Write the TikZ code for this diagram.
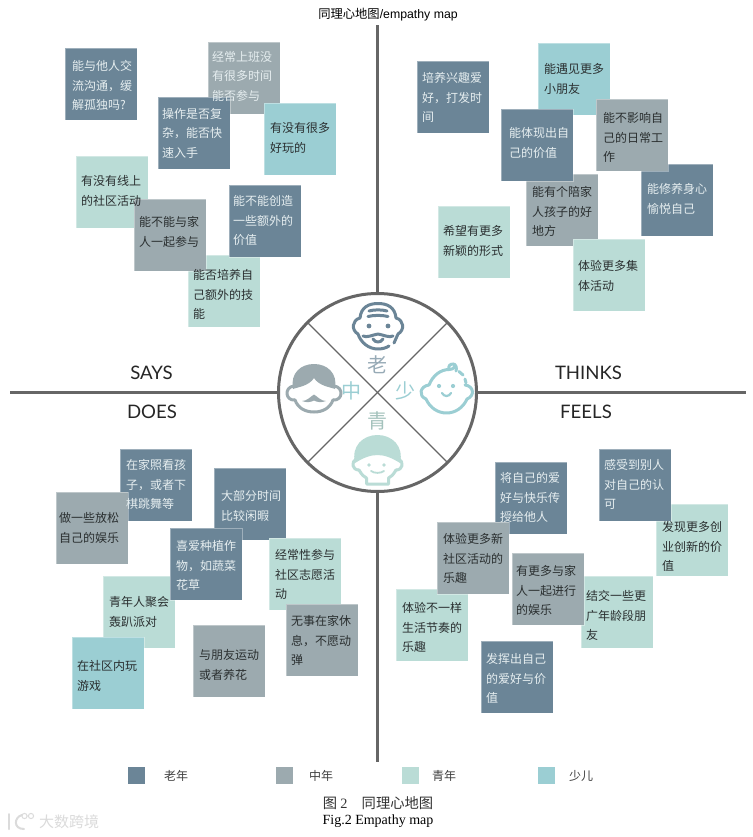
\documentclass[tikz,border=0pt]{standalone}
\usepackage{fontspec}
\setmainfont{Liberation Sans}
\newfontfamily\cjk{Noto Sans CJK SC}
\newfontfamily\headfont{Lato}
\newfontfamily\capserif{Liberation Serif}
\definecolor{cdark}{HTML}{6B8597}
\definecolor{cgrey}{HTML}{9CAAAF}
\definecolor{clight}{HTML}{BADCD6}
\definecolor{cteal}{HTML}{9BCED3}
\definecolor{caxis}{HTML}{666666}
\definecolor{ink}{HTML}{2A2F30}
\definecolor{paper}{HTML}{E6EEF0}
\newcommand{\cbox}[4]{\node[cardbox,fill=#2] (b#1) at (#3,#4) {};}
\newcommand{\ctext}[5]{\node[cardtext,text=#2,yshift=5.4pt] (t#1) at (#3,#4) {\rule{0pt}{10pt}#5};}
\tikzset{
  cardbox/.style={anchor=north west,minimum size=72pt,inner sep=0pt,outer sep=0pt,draw=white,draw opacity=0.35,line width=0.4pt},
  cardtext/.style={anchor=north west,inner sep=0pt,outer sep=0pt,align=left,font=\fontsize{12}{19.3}\selectfont\cjk},
  axisline/.style={draw=caxis,line width=3pt},
  sector/.style={draw=caxis,line width=1.4pt},
  hubc/.style={circle,draw=caxis,line width=3pt,minimum size=198pt,inner sep=0pt,outer sep=0pt},
  quad/.style={font=\fontsize{18.6}{20}\selectfont\headfont,text=black!85},
  agechar/.style={font=\fontsize{20}{22}\selectfont\cjk},
  legbox/.style={anchor=north west,minimum size=17pt,inner sep=0pt,outer sep=0pt},
  leglabel/.style={font=\fontsize{12}{14}\selectfont\cjk,text=black!75},
  icon/.style={line width=3pt,line cap=round,line join=round,fill=none},
}
\begin{document}
\begin{tikzpicture}[x=1pt,y=-1pt]
\useasboundingbox[fill=white] (0,0) rectangle (752,837);
% axes and hub
\node[hubc] (hub) at (377.5,392.5) {};
\coordinate (topEnd) at (377.5,25);
\coordinate (bottomEnd) at (377.5,762);
\coordinate (leftEnd) at (10,392.5);
\coordinate (rightEnd) at (746,392.5);
\draw[axisline] (hub.north) -- (topEnd);
\draw[axisline] (hub.south) -- (bottomEnd);
\draw[axisline] (hub.west) -- (leftEnd);
\draw[axisline] (hub.east) -- (rightEnd);
\draw[sector] (hub.45) -- (hub.225);
\draw[sector] (hub.135) -- (hub.315);
% title and quadrant heads
\node[font=\fontsize{12.3}{14}\selectfont] (title) at (388,15) {{\cjk 同理心地图}/empathy map};
\node[quad] (says) at (151.5,373) {SAYS};
\node[quad] (thinks) at (588.5,373) {THINKS};
\node[quad] (does) at (152,412) {DOES};
\node[quad] (feels) at (586,412) {FEELS};
% SAYS boxes
\cbox{a}{cdark}{65}{48}
\cbox{b}{cgrey}{208}{42}
\cbox{c}{cdark}{158}{97}
\cbox{d}{cteal}{264}{103}
\cbox{e}{clight}{76}{156}
\cbox{h}{clight}{188}{255}
\cbox{g}{cdark}{229}{185}
\cbox{f}{cgrey}{134}{199}
% THINKS boxes
\cbox{i}{cdark}{417}{61}
\cbox{j}{cteal}{538}{43}
\cbox{n}{cdark}{641}{164}
\cbox{k}{cgrey}{596}{99}
\cbox{o}{cgrey}{526}{174}
\cbox{l}{cdark}{501}{109}
\cbox{p}{clight}{438}{206}
\cbox{q}{clight}{573}{239}
% DOES boxes
\cbox{r}{cdark}{120}{449}
\cbox{s}{cgrey}{56}{492}
\cbox{t}{cdark}{214}{468}
\cbox{x}{clight}{103}{576}
\cbox{u}{cdark}{170}{528}
\cbox{v}{clight}{269}{538}
\cbox{w}{cgrey}{286}{604}
\cbox{y}{cteal}{72}{637}
\cbox{z}{cgrey}{193}{625}
% FEELS boxes
\cbox{aa}{cdark}{495}{462}
\cbox{ac}{clight}{656}{504}
\cbox{ab}{cdark}{599}{449}
\cbox{af}{clight}{396}{589}
\cbox{ad}{cgrey}{437}{522}
\cbox{ag}{clight}{581}{576}
\cbox{ae}{cgrey}{512}{553}
\cbox{ah}{cdark}{481}{641}
% SAYS texts
\ctext{a}{paper}{72}{66}{能与他人交\\流沟通，缓\\解孤独吗?}
\ctext{b}{paper}{212}{57}{经常上班没\\有很多时间\\能否参与}
\ctext{c}{paper}{162}{114}{操作是否复\\杂，能否快\\速入手}
\ctext{d}{ink}{270}{128}{有没有很多\\好玩的}
\ctext{e}{ink}{81}{181}{有没有线上\\的社区活动}
\ctext{f}{ink}{139}{222}{能不能与家\\人一起参与}
\ctext{g}{paper}{233}{201}{能不能创造\\一些额外的\\价值}
\ctext{h}{ink}{193}{275}{能否培养自\\己额外的技\\能}
% THINKS texts
\ctext{i}{paper}{422}{78}{培养兴趣爱\\好，打发时\\间}
\ctext{j}{ink}{544}{69}{能遇见更多\\小朋友}
\ctext{k}{ink}{603}{118}{能不影响自\\己的日常工\\作}
\ctext{l}{paper}{509}{133}{能体现出自\\己的价值}
\ctext{n}{paper}{647}{189}{能修养身心\\愉悦自己}
\ctext{o}{ink}{532}{192}{能有个陪家\\人孩子的好\\地方}
\ctext{p}{ink}{443}{231}{希望有更多\\新颖的形式}
\ctext{q}{ink}{578}{266}{体验更多集\\体活动}
% DOES texts
\ctext{r}{paper}{126}{465}{在家照看孩\\子，或者下\\棋跳舞等}
\ctext{s}{ink}{59}{518}{做一些放松\\自己的娱乐}
\ctext{t}{paper}{221}{496}{大部分时间\\比较闲暇}
\ctext{u}{paper}{176}{546}{喜爱种植作\\物，如蔬菜\\花草}
\ctext{v}{ink}{275}{555}{经常性参与\\社区志愿活\\动}
\ctext{w}{ink}{291}{621}{无事在家休\\息，不愿动\\弹}
\ctext{x}{ink}{109}{602}{青年人聚会\\轰趴派对}
\ctext{y}{ink}{77}{666}{在社区内玩\\游戏}
\ctext{z}{ink}{199}{655}{与朋友运动\\或者养花}
% FEELS texts
\ctext{aa}{paper}{500}{478}{将自己的爱\\好与快乐传\\授给他人}
\ctext{ab}{paper}{604}{465}{感受到别人\\对自己的认\\可}
\ctext{ac}{ink}{662}{527}{发现更多创\\业创新的价\\值}
\ctext{ad}{ink}{443}{539}{体验更多新\\社区活动的\\乐趣}
\ctext{ae}{ink}{516}{571}{有更多与家\\人一起进行\\的娱乐}
\ctext{ag}{ink}{586}{596}{结交一些更\\广年龄段朋\\友}
\ctext{af}{ink}{402}{608}{体验不一样\\生活节奏的\\乐趣}
\ctext{ah}{paper}{486}{659}{发挥出自己\\的爱好与价\\值}
% hub characters
\node[agechar,text=cdark!70] (cOld) at (377,365) {老};
\node[agechar,text=cteal] (cMid) at (351,391) {中};
\node[agechar,text=cteal] (cKid) at (405,391) {少};
\node[agechar,text=clight!88!black] (cYoung) at (377,421) {青};
% old man
\begin{scope}[icon,draw=cdark]
\draw (360,318) .. controls (361,307) and (369,303.5) .. (378,303.5) .. controls (387,303.5) and (395,307) .. (396,318);
\draw (360,318) .. controls (352,320) and (351,330) .. (358,334);
\draw (396,318) .. controls (404,320) and (405,330) .. (398,334);
\draw (369,311) .. controls (374,309.5) and (382,309.5) .. (387,311);
\draw (368,316.5) .. controls (374,315) and (382,315) .. (388,316.5);
\draw (358,334) .. controls (361,343) and (369,349) .. (378,349) .. controls (382,349) and (386,348) .. (389,346);
\draw (394,343) -- (398,334);
\draw (363,336) .. controls (367,338) and (372,335) .. (378,334) .. controls (384,335) and (389,338) .. (393,336);
\draw (373,339) .. controls (375,343) and (381,343) .. (383,339);
\fill[cdark] (369,326) circle (2.4) (388,326) circle (2.4);
\end{scope}
% middle-aged man
\begin{scope}[icon,draw=cgrey]
\fill[cgrey] (293,389) .. controls (290,373) and (301,364) .. (314,364) .. controls (327,364) and (338,373) .. (335,389) .. controls (330,387) and (319,386) .. (314,378) .. controls (309,386) and (298,387) .. (293,389) -- cycle;
\draw (294,386) .. controls (284,387) and (285,401) .. (295,400);
\draw (334,386) .. controls (344,387) and (343,401) .. (333,400);
\draw (295,400) .. controls (298,408) and (305,412) .. (314,412) .. controls (323,412) and (330,408) .. (333,400);
\fill[cgrey] (302,401) .. controls (307,401) and (310,397) .. (314,394.5) .. controls (318,397) and (321,401) .. (326,401) .. controls (321,403) and (317,402) .. (314,400.5) .. controls (311,402) and (307,403) .. (302,401) -- cycle;
\end{scope}
% child
\begin{scope}[icon,draw=cteal]
\draw (429,385) .. controls (433,375) and (441,369.5) .. (449,369.5) .. controls (454,369.5) and (456,366) .. (454,364);
\draw (449,369.5) .. controls (448,366) and (450,364) .. (453,364) .. controls (456,364) and (457,368) .. (456,371);
\draw (459,371.5) -- (463,375);
\draw (465,379) -- (466,383);
\draw (429,385) .. controls (420,386) and (418,396) .. (426,399);
\draw (465,385) .. controls (474,386) and (475,396) .. (467,399);
\draw (426,399) .. controls (430,408) and (438,413) .. (446.5,413) .. controls (455,413) and (463,408) .. (467,399);
\draw[line width=2.2pt] (442,393) .. controls (444,397) and (449,397) .. (451,393);
\fill[cteal] (439,386) circle (2.1) (453,386) circle (2.1);
\end{scope}
% young person
\begin{scope}[icon,draw=clight]
\fill[clight] (355,463) .. controls (351,446) and (363,435) .. (377.5,435) .. controls (392,435) and (404,446) .. (400,463) .. controls (392,458) and (385,455) .. (377.5,455) .. controls (370,455) and (363,458) .. (355,463) -- cycle;
\draw (356,459) .. controls (351,462) and (352,470) .. (359,470);
\draw (399,459) .. controls (404,462) and (403,470) .. (396,470);
\draw (359,470) .. controls (362,475) and (364,477) .. (366.5,478) -- (366.5,484) -- (388.5,484) -- (388.5,478) .. controls (391,477) and (393,475) .. (396,470);
\draw[line width=1.8pt] (371,471) .. controls (374,473.5) and (381,473.5) .. (384,471);
\fill[clight] (369,465) circle (1.9) (384,465) circle (1.9);
\end{scope}
% legend
\node[legbox,fill=cdark] (lg1) at (127.5,767) {};
\node[legbox,fill=cgrey] (lg2) at (276,767) {};
\node[legbox,fill=clight] (lg3) at (402,767) {};
\node[legbox,fill=cteal] (lg4) at (538,767) {};
\node[leglabel] (ll1) at (176,776) {老年};
\node[leglabel] (ll2) at (321,776) {中年};
\node[leglabel] (ll3) at (444,776) {青年};
\node[leglabel] (ll4) at (581,776) {少儿};
% caption
\node[font=\fontsize{14.3}{16}\selectfont\cjk,text=black!80] (cap1) at (378,803) {图 {\capserif 2}\quad 同理心地图};
\node[font=\fontsize{14}{16}\selectfont\capserif,text=black] (cap2) at (378,821) {Fig.2 Empathy map};
% watermark
\begin{scope}[draw=black!14,line width=2pt,line cap=round]
\draw (9,814) -- (9,829);
\draw (22,815) .. controls (14,817) and (13,829) .. (24,829);
\draw[line width=1pt] (24.5,816) circle (2.6) (31,816) circle (2.6);
\end{scope}
\node[font=\fontsize{15}{17}\selectfont\cjk,text=black!14] (wm) at (69,822) {大数跨境};
\end{tikzpicture}
\end{document}
